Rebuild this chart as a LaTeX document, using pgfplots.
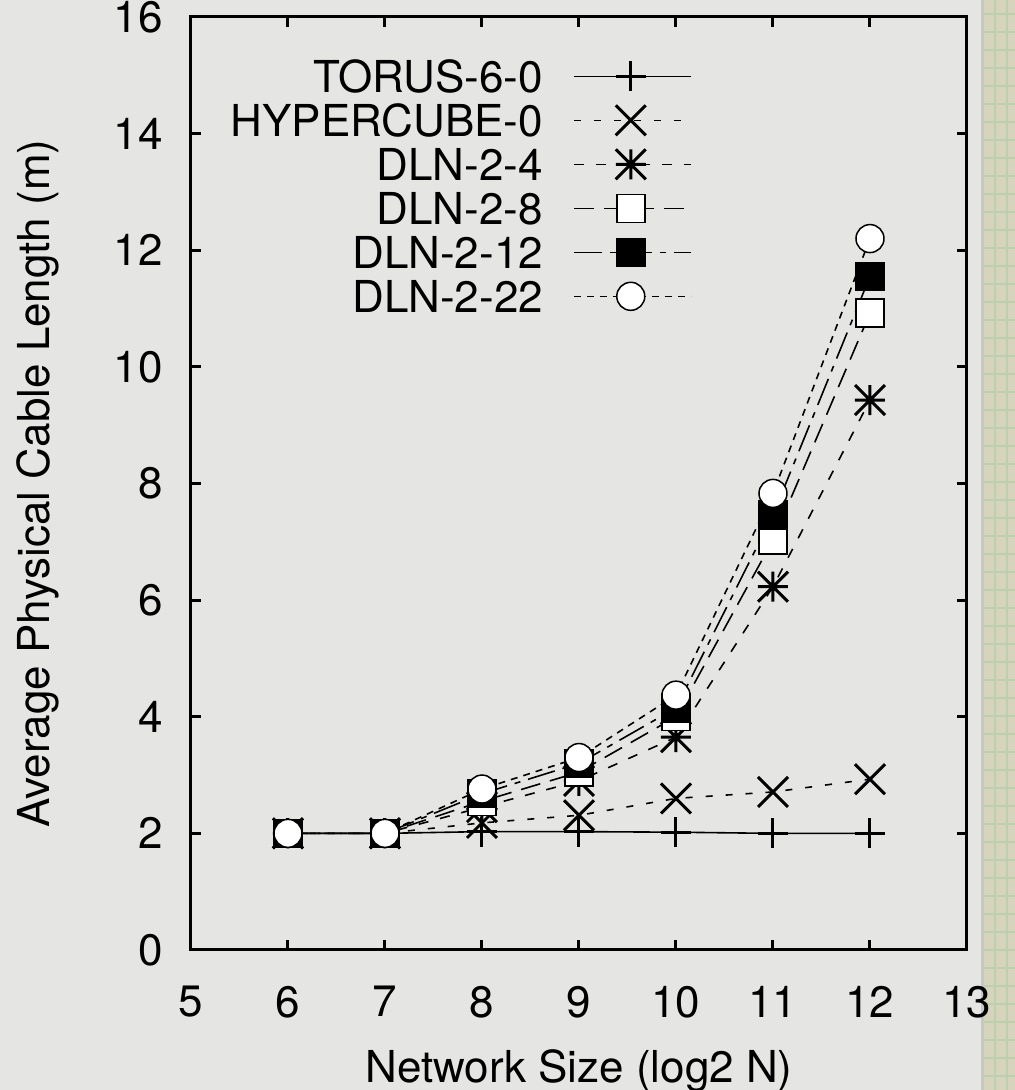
\documentclass[border=0pt]{standalone}
\usepackage{fontspec}
\setmainfont{TeX Gyre Heros}
\usepackage{pgfplots}
\pgfplotsset{compat=1.18}

\definecolor{paper}{HTML}{E5E6E4}
\definecolor{strip}{HTML}{D6D4BC}
\definecolor{stripgrid}{HTML}{BCD0AE}
\newcommand\chartfont{\fontsize{22}{26}\selectfont}

% gnuplot style asterisk: plus and cross together
\pgfdeclareplotmark{plusx}{%
  \pgfpathmoveto{\pgfqpoint{-\pgfplotmarksize}{0pt}}%
  \pgfpathlineto{\pgfqpoint{\pgfplotmarksize}{0pt}}%
  \pgfpathmoveto{\pgfqpoint{0pt}{-\pgfplotmarksize}}%
  \pgfpathlineto{\pgfqpoint{0pt}{\pgfplotmarksize}}%
  \pgfpathmoveto{\pgfqpoint{-\pgfplotmarksize}{-\pgfplotmarksize}}%
  \pgfpathlineto{\pgfqpoint{\pgfplotmarksize}{\pgfplotmarksize}}%
  \pgfpathmoveto{\pgfqpoint{-\pgfplotmarksize}{\pgfplotmarksize}}%
  \pgfpathlineto{\pgfqpoint{\pgfplotmarksize}{-\pgfplotmarksize}}%
  \pgfusepathqstroke}

\begin{document}
\begin{tikzpicture}
% page background and the paper strip on the right
\fill[paper] (-95.5pt,-70pt) rectangle (412pt,475pt);
\fill[strip] (395pt,-70pt) rectangle (412pt,475pt);
\draw[stripgrid, line width=0.8pt] (395pt,-70pt) grid[xstep=6pt, ystep=9pt] (412pt,475pt);
\draw[black!22, line width=1.5pt] (395.5pt,-70pt) -- (395.5pt,475pt);

\begin{axis}[
    width=388pt, height=466.5pt, scale only axis,
    xmin=5, xmax=13, ymin=0, ymax=16,
    xtick={5,...,13}, ytick={0,2,...,16},
    tick align=inside, major tick length=5pt,
    every tick/.style={black, line width=1.5pt},
    axis line style={line width=1.5pt},
    /pgf/number format/assume math mode=true,
    tick label style={font=\chartfont},
    xticklabel style={inner sep=0pt, yshift=-18pt},
    yticklabel style={inner sep=0pt, xshift=-14pt},
    xlabel={Network Size (log2 N)},
    ylabel={Average Physical Cable Length (m)},
    xlabel style={at={(axis description cs:0.5,-0.1415)}, anchor=base, font=\chartfont},
    ylabel style={at={(axis description cs:-0.1817,0.5)}, anchor=base, font=\chartfont},
    legend style={at={(rel axis cs:0.6456,0.954)}, anchor=north east,
        draw=none, fill=none, font=\chartfont, inner sep=0pt,
        row sep=6pt, column sep=15pt,
        nodes={inner sep=0pt, text height=16pt, text depth=0pt}},
    legend cell align=right,
    legend plot pos=right,
    legend image code/.code={\draw[mark repeat=2, mark phase=2, #1]
        plot coordinates {(0pt,0pt) (28.5pt,0pt) (58.5pt,0pt)};},
    every axis plot/.append style={black, line width=0.8pt},
]
\addplot[mark=+, mark size=7.5pt, mark options={solid, line width=1.5pt}]
    coordinates {(6,2) (7,2) (8,2.03) (9,2.03) (10,2.02) (11,2.0) (12,2.0)};
\addplot[dash pattern=on 3.5pt off 6.5pt, mark=x, mark size=10.6pt, mark options={solid, line width=1.5pt}]
    coordinates {(6,2) (7,2) (8,2.18) (9,2.31) (10,2.6) (11,2.71) (12,2.93)};
\addplot[dash pattern=on 5pt off 6pt, mark=plusx, mark size=7.5pt, mark options={solid, line width=1.5pt}]
    coordinates {(6,2) (7,2) (8,2.45) (9,2.9) (10,3.65) (11,6.23) (12,9.43)};
\addplot[dash pattern=on 10pt off 5pt, mark=square*, mark size=7pt, mark options={solid, fill=white, line width=0.75pt}]
    coordinates {(6,2) (7,2) (8,2.55) (9,3.05) (10,4.0) (11,7.03) (12,10.92)};
\addplot[dash pattern=on 14pt off 4pt on 3pt off 4pt, mark=square*, mark size=7pt, mark options={solid, fill=black, line width=0.75pt}]
    coordinates {(6,2) (7,2) (8,2.68) (9,3.2) (10,4.15) (11,7.46) (12,11.55)};
\addplot[dash pattern=on 3.5pt off 3pt, mark=*, mark size=7pt, mark options={solid, fill=white, line width=0.75pt}]
    coordinates {(6,2) (7,2) (8,2.76) (9,3.3) (10,4.37) (11,7.83) (12,12.2)};
\legend{TORUS-6-0, HYPERCUBE-0, DLN-2-4, DLN-2-8, DLN-2-12, DLN-2-22}
\end{axis}
\pgfresetboundingbox
\useasboundingbox (-95.5pt,-70pt) rectangle (412pt,475pt);
\end{tikzpicture}
\end{document}
